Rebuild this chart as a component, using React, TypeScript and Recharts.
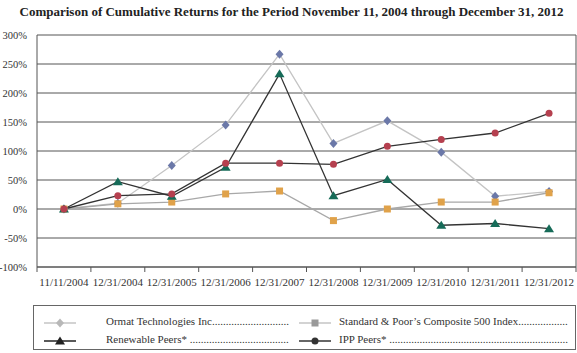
import React from 'react';
import {
  LineChart,
  Line,
  XAxis,
  YAxis,
  CartesianGrid,
  ReferenceLine,
} from 'recharts';

const periods = [
  '11/11/2004',
  '12/31/2004',
  '12/31/2005',
  '12/31/2006',
  '12/31/2007',
  '12/31/2008',
  '12/31/2009',
  '12/31/2010',
  '12/31/2011',
  '12/31/2012',
];

const ormat = [0, 10, 75, 145, 267, 113, 152, 98, 22, 30];
const sp500 = [0, 9, 12, 26, 31, -20, 0, 12, 12, 28];
const renewable = [0, 47, 22, 72, 233, 23, 51, -28, -25, -34];
const ipp = [0, 23, 26, 79, 79, 77, 108, 120, 131, 165];

const yTicks = [-100, -50, 0, 50, 100, 150, 200, 250, 300];
const xTicks = [0, 1, 2, 3, 4, 5, 6, 7, 8, 9, 10];

const FONT = '"Liberation Serif", "Times New Roman", serif';
const W = 577;
const H = 353;
const PLOT_LEFT = 37;
const PLOT_RIGHT = 576;
const HALF_BAND = (PLOT_RIGHT - PLOT_LEFT) / 20;

const data = periods.map((p, i) => ({
  x: i + 0.5,
  label: p,
  ormat: ormat[i],
  sp500: sp500[i],
  renewable: renewable[i],
  ipp: ipp[i],
}));

// marker shapes
const Diamond = ({ cx, cy, fill }: any) =>
  cx == null ? null : (
    <path d={`M${cx},${cy - 4.5}L${cx + 4},${cy}L${cx},${cy + 4.5}L${cx - 4},${cy}Z`} fill={fill} />
  );
const Square = ({ cx, cy, fill }: any) =>
  cx == null ? null : <rect x={cx - 3.5} y={cy - 3.5} width={7} height={7} fill={fill} />;
const Triangle = ({ cx, cy, fill }: any) =>
  cx == null ? null : (
    <path d={`M${cx},${cy - 4.5}L${cx + 5},${cy + 3.5}L${cx - 5},${cy + 3.5}Z`} fill={fill} />
  );
const Circle = ({ cx, cy, fill }: any) =>
  cx == null ? null : <circle cx={cx} cy={cy} r={3.5} fill={fill} />;

const XTick = ({ x, y, payload }: any) => {
  if (payload.value >= 10) return null;
  return (
    <text
      x={x + HALF_BAND}
      y={y + 12}
      textAnchor="middle"
      fontFamily={FONT}
      fontSize={11}
      fill="#333"
    >
      {periods[payload.value]}
    </text>
  );
};

// legend entries: swatch left, text left, where the dot leader stops
const legendItems = [
  { name: 'Ormat Technologies Inc', line: '#c4c4c4', mark: '#b8b8b8', shape: 'diamond', sx: 10, tx: 72, top: 10, end: 256 },
  { name: 'Standard & Poor\u2019s Composite 500 Index', line: '#c4c4c4', mark: '#999', shape: 'square', sx: 265, tx: 305, top: 10, end: 535 },
  { name: 'Renewable Peers* ', line: '#222', mark: '#222', shape: 'triangle', sx: 10, tx: 72, top: 28, end: 256 },
  { name: 'IPP Peers* ', line: '#333', mark: '#333', shape: 'circle', sx: 265, tx: 305, top: 28, end: 535 },
];

let ctx: CanvasRenderingContext2D | null = null;
function textWidth(s: string) {
  if (!ctx) {
    ctx = document.createElement('canvas').getContext('2d');
  }
  if (!ctx) return s.length * 5;
  ctx.font = '11px "Liberation Serif", serif';
  return ctx.measureText(s).width;
}

function leader(item: any) {
  const room = item.end - item.tx - textWidth(item.name);
  const n = Math.max(0, Math.floor(room / textWidth('.')));
  return '.'.repeat(n);
}

const LegendSwatch = ({ line, mark, shape }: any) => (
  <svg width={32} height={10} style={{ display: 'block' }}>
    <line x1={0} y1={5} x2={32} y2={5} stroke={line} strokeWidth={1.5} />
    {shape === 'diamond' && <Diamond cx={16} cy={5} fill={mark} />}
    {shape === 'square' && <Square cx={16} cy={5} fill={mark} />}
    {shape === 'triangle' && <Triangle cx={16} cy={5} fill={mark} />}
    {shape === 'circle' && <Circle cx={16} cy={5} fill={mark} />}
  </svg>
);

export default function App() {
  return (
    <div
      style={{
        position: 'absolute',
        left: 0,
        top: 0,
        width: W,
        height: H,
        background: '#fff',
        fontFamily: FONT,
        overflow: 'hidden',
      }}
    >
      <div
        style={{
          position: 'absolute',
          top: 4,
          left: 15,
          width: 553,
          textAlign: 'center',
          fontWeight: 'bold',
          fontSize: 13,
          color: '#222',
          whiteSpace: 'nowrap',
        }}
      >
        Comparison of Cumulative Returns for the Period November 11, 2004 through December 31, 2012
      </div>

      <LineChart
        width={W}
        height={H}
        data={data}
        margin={{ top: 35, right: W - PLOT_RIGHT, bottom: 56, left: 0 }}
      >
        <CartesianGrid horizontal vertical={false} stroke="#555" />
        <ReferenceLine y={50} stroke="#aaa" strokeWidth={1.5} />
        <ReferenceLine y={0} stroke="#aaa" strokeWidth={1.5} />
        <ReferenceLine y={-50} stroke="#aaa" strokeWidth={1.5} />
        <ReferenceLine x={10} stroke="#555" />
        <XAxis
          type="number"
          dataKey="x"
          domain={[0, 10]}
          ticks={xTicks}
          interval={0}
          tick={<XTick />}
          tickSize={5}
          stroke="#555"
          height={30}
        />
        <YAxis
          domain={[-100, 300]}
          ticks={yTicks}
          interval={0}
          width={PLOT_LEFT}
          tickLine={false}
          tickMargin={4}
          stroke="#555"
          tickFormatter={(v: number) => `${v}%`}
          tick={{ fontFamily: FONT, fontSize: 10.5, fill: '#333' }}
        />
        <Line
          dataKey="ormat"
          stroke="#c4c4c4"
          strokeWidth={1.3}
          dot={<Diamond fill="#6b78a8" />}
          isAnimationActive={false}
        />
        <Line
          dataKey="sp500"
          stroke="#a8a8a8"
          strokeWidth={1.3}
          dot={<Square fill="#e0a24a" />}
          isAnimationActive={false}
        />
        <Line
          dataKey="renewable"
          stroke="#333"
          strokeWidth={1.3}
          dot={<Triangle fill="#166b58" />}
          isAnimationActive={false}
        />
        <Line
          dataKey="ipp"
          stroke="#333"
          strokeWidth={1.3}
          dot={<Circle fill="#b5404f" />}
          isAnimationActive={false}
        />
      </LineChart>

      <div
        style={{
          position: 'absolute',
          left: 33,
          top: 305,
          width: 543,
          height: 45,
          border: '1px solid #666',
          boxSizing: 'border-box',
        }}
      >
        {legendItems.map((item) => (
          <React.Fragment key={item.name}>
            <div style={{ position: 'absolute', left: item.sx, top: item.top + 2 }}>
              <LegendSwatch {...item} />
            </div>
            <div
              style={{
                position: 'absolute',
                left: item.tx,
                top: item.top - 2,
                fontSize: 11,
                lineHeight: '14px',
                color: '#333',
                whiteSpace: 'nowrap',
              }}
            >
              {item.name}
              {leader(item)}
            </div>
          </React.Fragment>
        ))}
      </div>
    </div>
  );
}
